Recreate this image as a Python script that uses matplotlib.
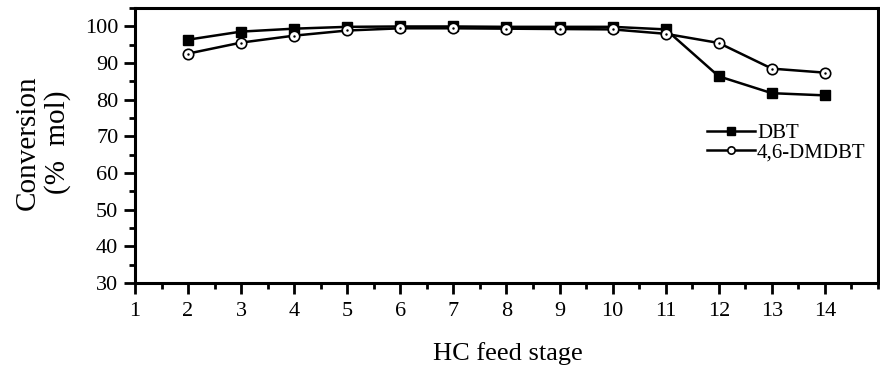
import matplotlib.pyplot as plt
from matplotlib.ticker import MultipleLocator

plt.rcParams['font.family'] = ['Liberation Serif', 'DejaVu Serif']

# data
stage = [2, 3, 4, 5, 6, 7, 8, 9, 10, 11, 12, 13, 14]
dbt = [96.4, 98.6, 99.4, 99.9, 100.0, 100.0, 99.9, 99.9, 99.9, 99.2, 86.4, 81.8, 81.2]
dmdbt = [92.6, 95.6, 97.5, 98.9, 99.5, 99.5, 99.4, 99.3, 99.2, 98.0, 95.5, 88.5, 87.4]

fig = plt.figure(figsize=(8.8, 3.7), dpi=100)
ax = fig.add_axes([0.1534, 0.235, 0.8443, 0.743])

ax.plot(stage, dbt, color='black', lw=1.8, marker='s', ms=7.5, mfc='black', label='DBT')
ax.plot(stage, dmdbt, color='black', lw=1.8, marker='o', ms=7.5, mfc='white', mew=1.2,
        label='4,6-DMDBT')
# small dot inside open circles
ax.plot(stage, dmdbt, ls='none', marker='.', ms=1.5, color='black')

ax.set_xlim(1, 15)
ax.set_ylim(30, 105)
ax.set_xticks(range(1, 15))
ax.xaxis.set_minor_locator(MultipleLocator(0.5))
ax.set_yticks(range(30, 101, 10))
ax.yaxis.set_minor_locator(MultipleLocator(5))

for s in ax.spines.values():
    s.set_linewidth(2.2)
ax.tick_params(which='major', direction='out', length=8, width=2, labelsize=16)
ax.tick_params(which='minor', direction='out', length=4, width=2)
ax.tick_params(axis='x', which='major', pad=6)
ax.tick_params(axis='y', which='major', pad=4)

fig.text(0.577, 0.027, 'HC feed stage', fontsize=19, ha='center', va='baseline')
fig.text(0.049, 0.615, 'Conversion\n(%  mol)', fontsize=21, ha='center', va='center',
         rotation=90, linespacing=1.15)

ax.legend(loc='center left', bbox_to_anchor=(0.77, 0.51), frameon=False, fontsize=15,
          handlelength=2.3, handletextpad=0.1, borderaxespad=0, borderpad=0,
          labelspacing=0.0, markerscale=0.7)

fig.savefig('out.png', dpi=100)
